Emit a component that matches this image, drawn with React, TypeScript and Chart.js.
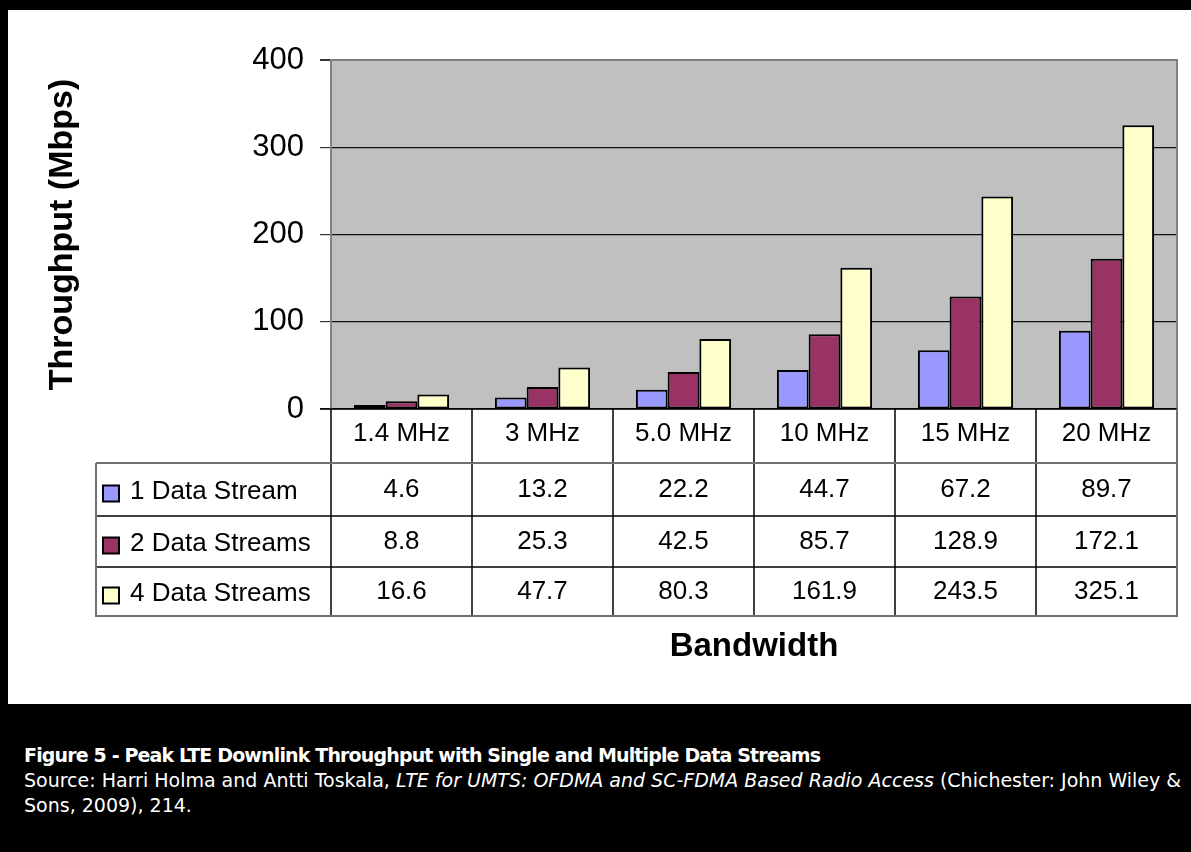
import React, { useEffect, useRef } from "react";
import { Chart, registerables } from "chart.js";

Chart.register(...registerables);

const categories = ["1.4 MHz", "3 MHz", "5.0 MHz", "10 MHz", "15 MHz", "20 MHz"];
const seriesNames = ["1 Data Stream", "2 Data Streams", "4 Data Streams"];
const oneStream = [4.6, 13.2, 22.2, 44.7, 67.2, 89.7];
const twoStreams = [8.8, 25.3, 42.5, 85.7, 128.9, 172.1];
const fourStreams = [16.6, 47.7, 80.3, 161.9, 243.5, 325.1];
const seriesColors = ["#9999FF", "#993366", "#FFFFCC"];
const yTitle = "Throughput (Mbps)";
const xTitle = "Bandwidth";

const FONT = "Arial, 'Liberation Sans', sans-serif";

const tablePlugin = {
  id: "tablePlugin",
  beforeDraw(chart: any) {
    const { ctx, chartArea } = chart;
    ctx.save();
    ctx.fillStyle = "#C0C0C0";
    ctx.fillRect(chartArea.left, chartArea.top, chartArea.right - chartArea.left, chartArea.bottom - chartArea.top);
    ctx.restore();
  },
  afterDraw(chart: any) {
    const { ctx, chartArea } = chart;
    const xs = chart.scales.x;
    const n = chart.data.labels.length;
    const colW = (chartArea.right - chartArea.left) / n;
    const top = chartArea.bottom;
    const r0 = top + 54;
    const rows = [r0, r0 + 53, r0 + 104, r0 + 153];
    const tableLeft = 96;
    const right = chartArea.right;
    ctx.save();
    // plot border (top / left / right)
    ctx.strokeStyle = "#808080";
    ctx.lineWidth = 2;
    ctx.beginPath();
    ctx.moveTo(chartArea.left, chartArea.bottom);
    ctx.lineTo(chartArea.left, chartArea.top);
    ctx.lineTo(chartArea.right, chartArea.top);
    ctx.lineTo(chartArea.right, chartArea.bottom);
    ctx.stroke();

    // vertical column dividers
    ctx.strokeStyle = "#000";
    ctx.lineWidth = 1.5;
    for (let i = 0; i < n; i++) {
      const x = xs.getPixelForValue(i) - colW / 2;
      ctx.beginPath();
      ctx.moveTo(x, top);
      ctx.lineTo(x, rows[3]);
      ctx.stroke();
    }
    // horizontal inner lines
    ctx.beginPath();
    ctx.moveTo(chartArea.left - 11, top);
    ctx.lineTo(right, top);
    ctx.stroke();
    ctx.strokeStyle = "#000";
    for (const y of [rows[1], rows[2]]) {
      ctx.beginPath();
      ctx.moveTo(tableLeft, y);
      ctx.lineTo(right, y);
      ctx.stroke();
    }
    // gray lines
    ctx.strokeStyle = "#707070";
    ctx.lineWidth = 2;
    ctx.beginPath();
    ctx.moveTo(tableLeft, rows[0]);
    ctx.lineTo(right, rows[0]);
    ctx.stroke();
    ctx.beginPath();
    ctx.moveTo(tableLeft, rows[0]);
    ctx.lineTo(tableLeft, rows[3]);
    ctx.lineTo(right, rows[3]);
    ctx.lineTo(right, top);
    ctx.stroke();

    // header labels
    ctx.fillStyle = "#000";
    ctx.font = `26px ${FONT}`;
    ctx.textAlign = "center";
    ctx.textBaseline = "middle";
    chart.data.labels.forEach((lab: string, i: number) => {
      ctx.fillText(lab, xs.getPixelForValue(i), (top + rows[0]) / 2 - 2);
    });
    // rows
    chart.data.datasets.forEach((ds: any, r: number) => {
      const cy = (rows[r] + rows[r + 1]) / 2;
      ds.data.forEach((v: number, i: number) => {
        ctx.textAlign = "center";
        ctx.fillText(String(v), xs.getPixelForValue(i), cy);
      });
      // legend swatch
      ctx.fillStyle = ds.backgroundColor;
      ctx.fillRect(103, cy - 4, 16, 16);
      ctx.strokeStyle = "#000";
      ctx.lineWidth = 2;
      ctx.strokeRect(103, cy - 4, 16, 16);
      ctx.fillStyle = "#000";
      ctx.textAlign = "left";
      ctx.fillText(ds.label, 130, cy + 2);
    });

    // x title
    ctx.font = `bold 33px ${FONT}`;
    ctx.textAlign = "center";
    ctx.fillText(xTitle, (chartArea.left + chartArea.right) / 2, rows[3] + 31);
    ctx.restore();
  },
};

export default function App() {
  const ref = useRef<HTMLCanvasElement | null>(null);
  useEffect(() => {
    if (!ref.current) return;
    const chart = new Chart(ref.current, {
      type: "bar",
      data: {
        labels: categories,
        datasets: [oneStream, twoStreams, fourStreams].map((d, i) => ({
          label: seriesNames[i],
          data: d,
          backgroundColor: seriesColors[i],
          borderColor: "#000",
          borderWidth: 2,
          borderSkipped: false,
          categoryPercentage: 0.675,
          barPercentage: 1.0,
        })),
      },
      options: {
        animation: false,
        responsive: false,
        maintainAspectRatio: false,
        devicePixelRatio: 1,
        layout: { padding: { left: 0, top: 60, right: 14, bottom: 295 } },
        plugins: { legend: { display: false }, tooltip: { enabled: false }, title: { display: false } },
        scales: {
          x: { display: false, offset: true },
          y: {
            min: 0,
            max: 400,
            afterFit: (s: any) => {
              s.width = 331;
            },
            ticks: {
              stepSize: 100,
              padding: 16,
              color: "#000",
              font: { family: FONT, size: 31 },
            },
            grid: {
              color: (c: any) => (c.tick && c.tick.value === 400 ? "#808080" : "#111"),
              lineWidth: (c: any) => (c.tick && c.tick.value === 400 ? 2 : 1.2),
              tickLength: 11,
              tickColor: "#333",
            },
            border: { display: true, color: "#808080", width: 2 },
            title: {
              display: true,
              text: yTitle,
              color: "#000",
              font: { family: FONT, size: 34, weight: "bold" },
              padding: { top: 42, bottom: 0 },
            },
          },
        },
      },
      plugins: [tablePlugin],
    });
    return () => chart.destroy();
  }, []);

  const cap: React.CSSProperties = {
    fontFamily: "'DejaVu Sans', sans-serif",
    fontSize: "19px",
    lineHeight: "25px",
    color: "#fff",
    whiteSpace: "nowrap",
  };

  return (
    <div style={{ position: "fixed", left: 0, top: 0, width: 1191, height: 852, background: "#000", overflow: "hidden" }}>
      <div style={{ position: "absolute", left: 8, top: 10, width: 1183, height: 694, background: "#fff" }} />
      <canvas ref={ref} width={1191} height={704} style={{ position: "absolute", left: 0, top: 0, width: 1191, height: 704 }} />
      <div style={{ position: "absolute", left: 24, top: 743, ...cap }}>
        <div style={{ fontWeight: "bold", letterSpacing: "-0.85px" }}>
          Figure 5 - Peak LTE Downlink Throughput with Single and Multiple Data Streams
        </div>
        <div>
          Source: Harri Holma and Antti Toskala, <i>LTE for UMTS: OFDMA and SC-FDMA Based Radio Access</i> (Chichester: John Wiley &amp;
        </div>
        <div>Sons, 2009), 214.</div>
      </div>
    </div>
  );
}
